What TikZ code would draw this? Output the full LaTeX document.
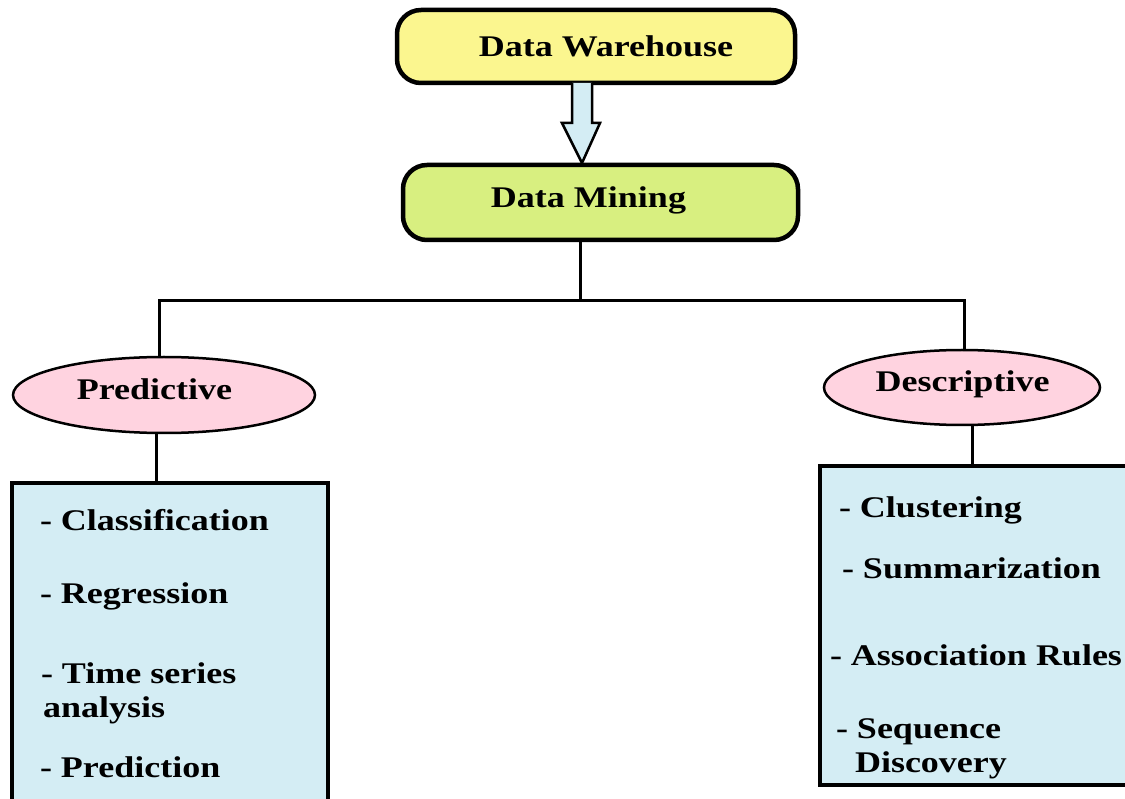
\documentclass[tikz,border=0pt]{standalone}
\usepackage{fontspec}
\setmainfont[FakeStretch=1.2]{Liberation Serif}
\usetikzlibrary{shapes.geometric}

\definecolor{whyellow}{HTML}{FBF68F}
\definecolor{dmgreen}{HTML}{D8EF80}
\definecolor{catpink}{HTML}{FFD3E0}
\definecolor{listblue}{HTML}{D4EDF4}

\tikzset{
  every node/.style={font=\fontsize{30}{36}\selectfont\bfseries, inner sep=0pt, outer sep=0pt},
  topbox/.style={draw, line width=4.5pt, rounded corners=24pt, minimum width=398pt, minimum height=73pt},
  catshape/.style={ellipse, draw, line width=2.5pt, fill=catpink},
  listbox/.style={draw, line width=3.5pt, fill=listblue, rectangle},
  wire/.style={line width=3pt},
  blockarrow/.style={draw, line width=2.5pt, fill=listblue, line join=miter},
  item/.style={anchor=base west},
  caption/.style={anchor=base},
}

\begin{document}
\begin{tikzpicture}[x=1pt, y=-1pt]
\clip (0,0) rectangle (1125,799);
\fill[white] (0,0) rectangle (1125,799);

% top two stages
\node[topbox, fill=whyellow] (dw) at (596,46.5) {};
\node[caption] (dwtext) at (606,57) {Data Warehouse};
\node[topbox, fill=dmgreen, minimum width=395pt, minimum height=75pt] (dm) at (600.5,202.5) {};
\node[caption] (dmtext) at (588.5,208) {Data Mining};

% hollow block arrow between them
\coordinate (ax) at (582,120);
\coordinate (atop) at (ax |- dw.south);
\coordinate (atip) at ([yshift=2pt]ax |- dm.north);
\draw[blockarrow] ([xshift=-10pt]atop) -- ([xshift=-10pt,yshift=-40pt]atop)
  -- ([xshift=-20pt,yshift=-40pt]atop) -- (atip)
  -- ([xshift=18pt,yshift=-40pt]atop) -- ([xshift=10pt,yshift=-40pt]atop)
  -- ([xshift=10pt]atop);

% two categories
\node[catshape, minimum width=302pt, minimum height=76pt] (pred) at (164,395) {};
\node[caption] (predtext) at (154.5,400) {Predictive};
\node[catshape, minimum width=276pt, minimum height=75pt] (desc) at (962,387.5) {};
\node[caption] (desctext) at (962.5,392) {Descriptive};

% task lists
\node[listbox, minimum width=316pt, minimum height=360pt] (pbox) at (170,663) {};
\node[listbox, minimum width=330pt, minimum height=319pt] (dbox) at (985,625.5) {};

\node[item] (p1) at (40,530) {- Classification};
\node[item] (p2) at (40,603) {- Regression};
\node[item] (p3) at (41,683) {- Time series};
\node[item] (p3b) at (43,717) {analysis};
\node[item] (p4) at (40,777) {- Prediction};

\node[item] (d1) at (839,517) {- Clustering};
\node[item] (d2) at (842,578) {- Summarization};
\node[item] (d3) at (830,665) {- Association Rules};
\node[item] (d4) at (836,738) {- Sequence};
\node[item] (d4b) at (855,772) {Discovery};

% tree connectors
\coordinate (jM) at (580,301);
\coordinate (jL) at (159,301);
\coordinate (jR) at (964,301);
\coordinate (pax) at (156,450);
\coordinate (dax) at (972,450);
\draw[wire] (dm.south -| jM) -- (jM);
\draw[wire] (jL |- pred.north) -- (jL) -- (jR) -- (jR |- desc.north);
\draw[wire] (pax |- pred.south) -- (pax |- pbox.north);
\draw[wire] (dax |- desc.south) -- (dax |- dbox.north);
\end{tikzpicture}
\end{document}
